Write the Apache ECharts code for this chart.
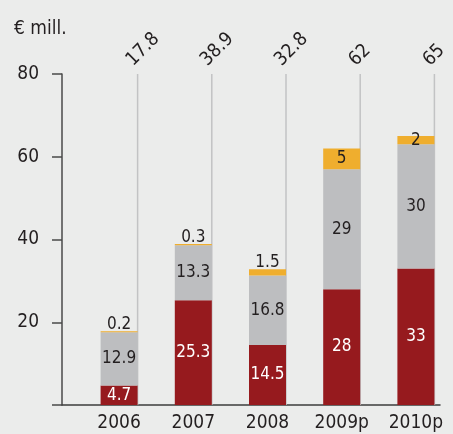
<!DOCTYPE html>
<html>
<head>
<meta charset="utf-8">
<script src="https://cdn.jsdelivr.net/npm/echarts@6/dist/echarts.min.js"></script>
<style>
  html, body { margin: 0; padding: 0; background: #ebeceb; }
  #chart { width: 453px; height: 434px; }
</style>
</head>
<body>
<div id="chart"></div>
<script>
// 数据
var years = ["2006", "2007", "2008", "2009p", "2010p"];
var redValues = [4.7, 25.3, 14.5, 28, 33];
var grayValues = [12.9, 13.3, 16.8, 29, 30];
var orangeValues = [0.2, 0.3, 1.5, 5, 2];
var totals = ["17.8", "38.9", "32.8", "62", "65"];
var yTicks = [0, 20, 40, 60, 80];

var FONT = "'DejaVu Sans Condensed', 'DejaVu Sans', sans-serif";
var BAR_W = 37;

var chart = echarts.init(document.getElementById("chart"));

// 小数值标签放在顶部
var orangeData = orangeValues.map(function (v) {
  return {
    value: v,
    label: v < 2 ? { position: "top", distance: -2 } : { position: "inside" }
  };
});

var option = {
  backgroundColor: "#ebeceb",
  animation: false,
  title: {
    text: "€ mill.",
    left: 9,
    top: 15,
    textStyle: { fontFamily: FONT, fontSize: 19, fontWeight: "normal", color: "#231f20" }
  },
  grid: [
    { left: 82, width: 377.5, top: 74, bottom: 29 },
    { left: 62, right: 13, top: 74, bottom: 29 }
  ],
  xAxis: [
    {
      type: "category",
      gridIndex: 0,
      data: years,
      axisLine: { show: false },
      axisTick: { show: false },
      axisLabel: { interval: 0, fontFamily: FONT, fontSize: 19, color: "#231f20", margin: 9 }
    },
    {
      type: "value",
      gridIndex: 1,
      min: 0,
      max: 1,
      axisLine: { show: true, lineStyle: { color: "#3c3c3c", width: 1.5 } },
      axisTick: { show: false },
      axisLabel: { show: false },
      splitLine: { show: false }
    }
  ],
  yAxis: [
    {
      type: "value",
      gridIndex: 0,
      min: yTicks[0],
      max: yTicks[yTicks.length - 1],
      interval: 20,
      show: false
    },
    {
      type: "value",
      gridIndex: 1,
      min: yTicks[0],
      max: yTicks[yTicks.length - 1],
      interval: 20,
      axisLine: { show: true, lineStyle: { color: "#4a4a4a", width: 1.5 } },
      axisTick: { show: true, inside: false, length: 10, lineStyle: { color: "#4a4a4a", width: 1.5 } },
      axisLabel: {
        fontFamily: FONT,
        fontSize: 19,
        color: "#231f20",
        margin: 23,
        formatter: function (v) { return v === 0 ? "" : v; }
      },
      splitLine: { show: false }
    }
  ],
  series: [
    {
      // 总计竖线和标签
      type: "custom",
      xAxisIndex: 0,
      yAxisIndex: 0,
      z: 1,
      silent: true,
      data: totals.map(function (t, i) { return [i, Number(t)]; }),
      renderItem: function (params, api) {
        var idx = api.value(0);
        var base = api.coord([idx, 0]);
        var top = api.coord([idx, 80]);
        var x = base[0] + BAR_W / 2;
        return {
          type: "group",
          children: [
            {
              type: "line",
              shape: { x1: x, y1: top[1], x2: x, y2: base[1] },
              style: { stroke: "#c2c3c4", lineWidth: 1.5 }
            },
            {
              type: "text",
              x: x - 8,
              y: top[1] - 11,
              rotation: Math.PI / 4,
              style: {
                text: totals[params.dataIndex],
                fontFamily: FONT,
                fontSize: 19,
                fill: "#231f20",
                align: "left",
                verticalAlign: "middle"
              }
            }
          ]
        };
      }
    },
    {
      name: "red",
      type: "bar",
      stack: "total",
      barWidth: BAR_W,
      z: 2,
      itemStyle: { color: "#961a1e" },
      label: {
        show: true,
        position: "inside",
        fontFamily: FONT,
        fontSize: 17,
        color: "#ffffff"
      },
      data: redValues
    },
    {
      name: "gray",
      type: "bar",
      stack: "total",
      barWidth: BAR_W,
      z: 2,
      itemStyle: { color: "#bdbec0" },
      label: {
        show: true,
        position: "inside",
        fontFamily: FONT,
        fontSize: 17,
        color: "#231f20"
      },
      data: grayValues
    },
    {
      name: "orange",
      type: "bar",
      stack: "total",
      barWidth: BAR_W,
      z: 2,
      itemStyle: { color: "#efae2e" },
      label: {
        show: true,
        fontFamily: FONT,
        fontSize: 17,
        color: "#231f20"
      },
      data: orangeData
    }
  ]
};

chart.setOption(option);
</script>
</body>
</html>
